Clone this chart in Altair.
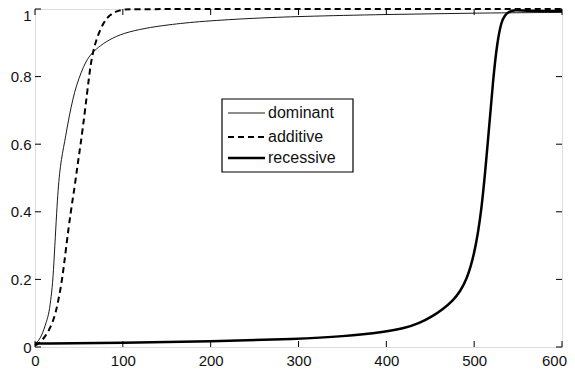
import altair as alt
import pandas as pd

# ---- data ----
series_names = ["dominant", "additive", "recessive"]

dom_x = [0, 2.5, 5, 7.5, 10, 13, 16, 18.5, 20.5, 22.6, 24.7, 26.3, 28, 30, 32.5, 35, 38, 41, 45, 50, 55, 59.6, 65, 71, 84, 101, 125, 150, 190, 250, 300, 400, 500, 600]
dom_y = [0.01, 0.015, 0.022, 0.035, 0.05, 0.075, 0.1, 0.15, 0.2, 0.3, 0.4, 0.465, 0.515, 0.555, 0.59, 0.625, 0.67, 0.708, 0.755, 0.795, 0.828, 0.852, 0.87, 0.885, 0.909, 0.929, 0.943, 0.953, 0.964, 0.973, 0.978, 0.984, 0.988, 0.99]

add_x = [0, 4, 8, 12, 16, 20, 23.5, 27.5, 31, 35.7, 40.6, 45, 48.5, 52, 57, 61.5, 65, 71, 78.6, 85, 92, 101, 115, 600]
add_y = [0.005, 0.01, 0.02, 0.033, 0.05, 0.073, 0.1, 0.15, 0.2, 0.3, 0.4, 0.47, 0.54, 0.6, 0.7, 0.8, 0.865, 0.92, 0.963, 0.982, 0.993, 0.999, 1.0, 1.0]

rec_x = [0, 100, 200, 300, 350, 400, 420, 438, 452, 465, 476, 484, 491.5, 500, 508.5, 515.4, 521.8, 526.4, 531, 535, 539, 546.5, 560, 600]
rec_y = [0.01, 0.012, 0.016, 0.024, 0.031, 0.045, 0.055, 0.071, 0.09, 0.113, 0.138, 0.164, 0.2, 0.27, 0.4, 0.6, 0.8, 0.904, 0.963, 0.982, 0.991, 0.998, 0.994, 0.994]

x_ticks = [0, 100, 200, 300, 400, 500, 600]
y_ticks = [0, 0.2, 0.4, 0.6, 0.8, 1.0]

W, H = 527, 338
FONT = "Liberation Sans"

xs = alt.Scale(domain=[0, 600], nice=False, zero=False)
ys = alt.Scale(domain=[0, 1], nice=False, zero=False)

dom_df = pd.DataFrame({"x": dom_x, "y": dom_y})
add_df = pd.DataFrame({"x": add_x, "y": add_y})
rec_df = pd.DataFrame({"x": rec_x, "y": rec_y})

xaxis = alt.Axis(values=x_ticks, ticks=False, domain=False, grid=False, labelFont=FONT,
                 labelFontSize=15, labelColor="#111", labelPadding=6, labelFlush=False, title=None,
                 labelOffset={"condition": {"test": "datum.value === 600", "value": -8}, "value": 0})
yaxis = alt.Axis(values=y_ticks, ticks=False, domain=False, grid=False, labelFont=FONT,
                 labelFontSize=15, labelColor="#111", labelPadding=4, format="~g", title=None,
                 labelOffset={"condition": {"test": "datum.value === 1", "value": 6}, "value": 0})

dom_line = alt.Chart(dom_df).mark_line(color="black", strokeWidth=0.9, interpolate="basis").encode(
    x=alt.X("x:Q", scale=xs, axis=xaxis), y=alt.Y("y:Q", scale=ys, axis=yaxis))
add_line = alt.Chart(add_df).mark_line(color="black", strokeWidth=2, strokeDash=[6, 4], interpolate="basis").encode(
    x=alt.X("x:Q", scale=xs), y=alt.Y("y:Q", scale=ys))
rec_line = alt.Chart(rec_df).mark_line(color="black", strokeWidth=2.5, interpolate="basis").encode(
    x=alt.X("x:Q", scale=xs), y=alt.Y("y:Q", scale=ys))

# inward ticks (MATLAB style) on all four sides
xt_df = pd.DataFrame({"t": x_ticks})
yt_df = pd.DataFrame({"t": y_ticks})
TL = 6
xt_bottom = alt.Chart(xt_df).mark_rule(color="black", strokeWidth=1).encode(
    x=alt.X("t:Q", scale=xs), y=alt.value(H), y2=alt.value(H - TL))
xt_top = alt.Chart(xt_df).mark_rule(color="black", strokeWidth=1).encode(
    x=alt.X("t:Q", scale=xs), y=alt.value(0), y2=alt.value(TL))
yt_left = alt.Chart(yt_df).mark_rule(color="black", strokeWidth=1).encode(
    y=alt.Y("t:Q", scale=ys), x=alt.value(0), x2=alt.value(TL))
yt_right = alt.Chart(yt_df).mark_rule(color="black", strokeWidth=1).encode(
    y=alt.Y("t:Q", scale=ys), x=alt.value(W), x2=alt.value(W - TL))

# legend box
box = alt.Chart(pd.DataFrame({"a": [0]})).mark_rect(fill="white", stroke="black", strokeWidth=1.2).encode(
    x=alt.value(187), x2=alt.value(318), y=alt.value(90), y2=alt.value(163))

styles = [dict(strokeWidth=0.9), dict(strokeWidth=2, strokeDash=[6, 4]), dict(strokeWidth=2.5)]
row_y = [104, 128, 149]
legend_layers = []
for name, st, yy in zip(series_names, styles, row_y):
    d = pd.DataFrame({"label": [name]})
    legend_layers.append(alt.Chart(d).mark_rule(color="black", **st).encode(
        x=alt.value(193), x2=alt.value(230), y=alt.value(yy)))
    legend_layers.append(alt.Chart(d).mark_text(align="left", baseline="middle", font=FONT,
                                                fontSize=16, color="#111").encode(
        x=alt.value(233), y=alt.value(yy), text="label:N"))

chart = alt.layer(
    dom_line, add_line, rec_line, xt_bottom, xt_top, yt_left, yt_right, box, *legend_layers
).properties(
    width=W, height=H,
    autosize=alt.AutoSizeParams(type="none"),
    padding={"left": 27, "top": 1, "right": 5, "bottom": 24},
).configure_view(stroke="black", strokeWidth=1.3).configure(background="white")

chart.save("out.html", embed_options={"renderer": "svg", "actions": False})
